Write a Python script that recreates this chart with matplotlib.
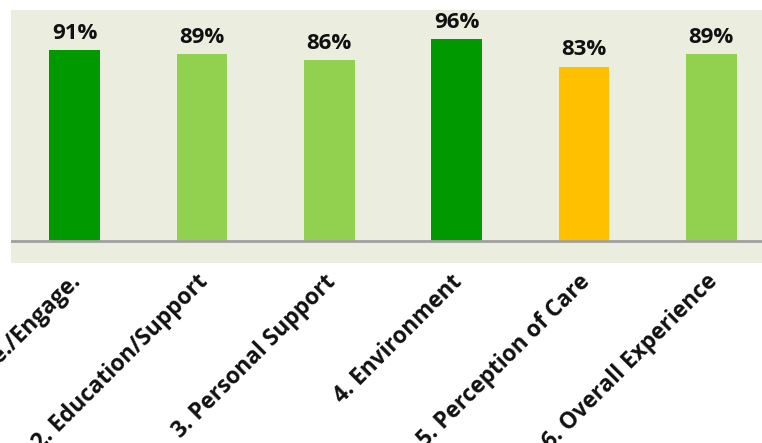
import matplotlib
matplotlib.use("Agg")
import matplotlib.pyplot as plt
from matplotlib.transforms import ScaledTranslation

categories = ["1. Communicate./Engage.", "2. Education/Support", "3. Personal Support",
              "4. Environment", "5. Perception of Care", "6. Overall Experience"]
values = [91, 89, 86, 96, 83, 89]
colors = ["#009900", "#92D050", "#92D050", "#009900", "#FFC000", "#92D050"]

plt.rcParams['font.family'] = ['Open Sans', 'DejaVu Sans']

W, H = 762, 443
fig = plt.figure(figsize=(W / 100, H / 100), dpi=100)
ax = fig.add_axes([11 / W, (H - 263) / H, (775 - 11) / W, (263 - 10) / H])
ax.set_facecolor("#EBEEDF")

x = list(range(len(categories)))
ax.bar(x, values, width=0.4, color=colors, zorder=2)
ax.axhline(0, color="#A0A0A0", linewidth=2, zorder=3)
for xi, v in zip(x, values):
    ax.text(xi, v + 3.0, f"{v}%", ha="center", va="bottom", fontsize=16,
            fontweight="bold", color="#111111")

ax.set_xlim(-0.5, 5.5)
ax.set_ylim(-10.5, 110)
ax.set_yticks([])
ax.set_xticks(x)
ax.set_xticklabels(categories, rotation=45, ha="right", rotation_mode="anchor",
                   fontsize=16.3, fontweight="bold", color="#111111")
ax.tick_params(axis="x", length=0, pad=5)
offset = ScaledTranslation(-6 / 100, 0, fig.dpi_scale_trans)
for lbl in ax.get_xticklabels():
    lbl.set_transform(lbl.get_transform() + offset)
for s in ax.spines.values():
    s.set_visible(False)

fig.savefig("out.png", dpi=100)
